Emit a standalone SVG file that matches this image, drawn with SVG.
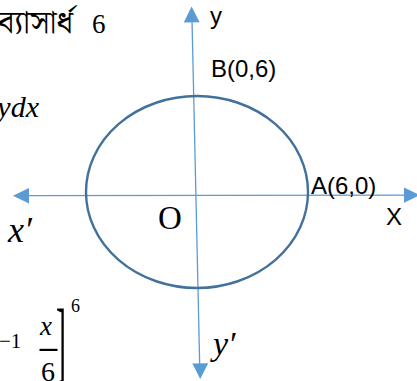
<svg xmlns="http://www.w3.org/2000/svg" width="417" height="381" viewBox="0 0 417 381">
<style>
.axis{stroke:#5B9BD5;stroke-width:1.3;fill:none}
.head{fill:#5B9BD5;stroke:none}
.circ{stroke:#41719C;stroke-width:2.4;fill:none}
.lbl{font-family:"Liberation Sans",Arial,sans-serif;font-size:24px;fill:#000}
.serif{font-family:"Liberation Serif","Times New Roman",serif;fill:#000}
.math{font-family:"Liberation Serif","Times New Roman",serif;font-style:italic;fill:#000}
.bn{font-family:"Noto Serif Bengali","Noto Sans Bengali","Lohit Bengali","Liberation Serif",serif;fill:#000}
</style>
<rect width="417" height="381" fill="#fff"/>
<g id="connectors">
<line class="axis" x1="29" y1="195.6" x2="404" y2="195.2"/>
<polygon class="head" points="13,195.7 29,188 29,203.4"/>
<polygon class="head" points="420,195.1 404,187.4 404,202.8"/>
<line class="axis" x1="192" y1="20" x2="199.7" y2="365"/>
<polygon class="head" points="191.6,6.5 183.8,22.5 199.6,22.2"/>
<polygon class="head" points="200.2,379 192.4,363.5 208.2,363.2"/>
</g>
<g id="circle">
<ellipse class="circ" cx="197" cy="192" rx="111" ry="96"/>
</g>
<g id="labels">
<text class="lbl" x="210" y="24">y</text>
<text class="lbl" x="211" y="77">B(0,6)</text>
<text class="lbl" x="311" y="194">A(6,0)</text>
<text class="lbl" x="386" y="225">X</text>
<text class="serif" x="158" y="229" font-size="33">O</text>
<text class="math" x="8" y="242" font-size="36">x′</text>
<text class="math" x="213" y="355" font-size="34">y′</text>
</g>
<g id="text-fragments">
<text class="bn" x="73" y="33" font-size="32" text-anchor="end">ব্যাসার্ধ</text>
<text class="serif" x="92" y="33" font-size="27">6</text>
<text class="math" x="39" y="117" font-size="30" text-anchor="end">ydx</text>
<text class="serif" x="-1" y="348" font-size="21">−1</text>
<text class="math" x="40" y="335" font-size="27">x</text>
<rect x="39.5" y="348.8" width="18" height="2.2" fill="#000"/>
<text class="serif" x="41" y="381" font-size="28">6</text>
<text class="serif" transform="translate(56,0) scale(1,3)" x="0" y="124" font-size="30">]</text>
<text class="serif" x="71" y="312" font-size="18">6</text>
</g>
</svg>
